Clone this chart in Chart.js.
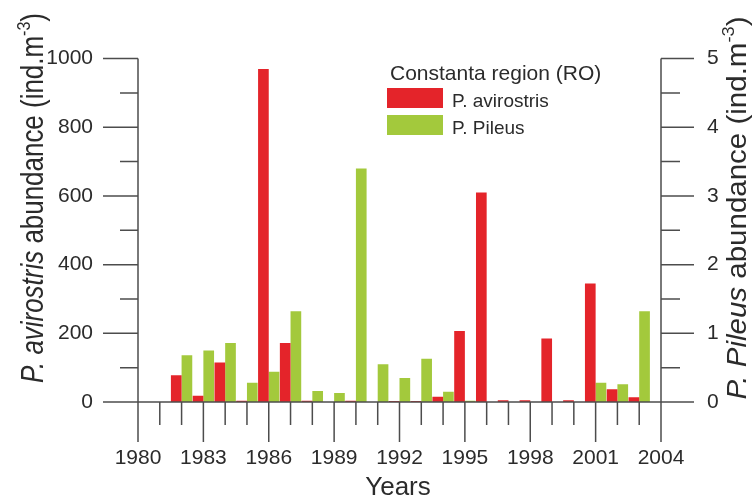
<!DOCTYPE html>
<html lang="en">
<head>
    <meta charset="UTF-8">
    <title>Constanta region (RO) - P. avirostris / P. Pileus</title>
    <style>
        html, body {
            margin: 0;
            padding: 0;
            background: #fff;
        }
        .chart-box {
            position: relative;
            width: 752px;
            height: 499px;
        }
    </style>
    <script src="https://cdn.jsdelivr.net/npm/chart.js"></script>
</head>
<body>
    <div class="chart-box">
        <canvas id="abundanceChart"></canvas>
    </div>
    <script>
        // data
        const years = ['1980', '1981', '1982', '1983', '1984', '1985', '1986', '1987', '1988', '1989',
                       '1990', '1991', '1992', '1993', '1994', '1995', '1996', '1997', '1998', '1999',
                       '2000', '2001', '2002', '2003', '2004'];
        // P. avirostris, left axis (ind.m-3)
        const avirostris = [0, 0, 78, 18, 115, 4, 970, 172, 4, 0,
                            4, 0, 3, 3, 15, 207, 610, 5, 5, 185,
                            5, 345, 37, 14, 0];
        // P. Pileus, right axis (ind.m-3)
        const pileus = [0, 0, 0.68, 0.75, 0.86, 0.28, 0.44, 1.32, 0.16, 0.13,
                        3.4, 0.55, 0.35, 0.63, 0.15, 0.02, 0, 0, 0, 0,
                        0, 0.28, 0.26, 1.32, 0];
        const legendTitle = 'Constanta region (RO)';

        const RED = '#e4242a';
        const GREEN = '#a3c93c';
        const INK = '#2b2b2b';
        const LINE = '#4d4d4d';

        // narrow font check (falls back to the normal one)
        function hasFont(name) {
            const c = document.createElement('canvas').getContext('2d');
            c.font = '40px monospace';
            const a = c.measureText('1000 Years abc').width;
            c.font = '40px "' + name + '", monospace';
            const b = c.measureText('1000 Years abc').width;
            return a !== b;
        }
        const narrowOk = hasFont('Liberation Sans Narrow');
        const NARROW = narrowOk ? '"Liberation Sans Narrow", "Liberation Sans", Arial, sans-serif'
                                : '"Liberation Sans", Arial, sans-serif';
        const REGULAR = '"Liberation Sans", Arial, sans-serif';
        const tickSize = narrowOk ? 24 : 21;

        // rotated axis title with italic species name and superscript, stretched to a given length
        function drawTitle(ctx, cx, cy, len, size, family, parts) {
            ctx.save();
            const pieces = parts.map(p => {
                const s = p.sup ? size * 0.62 : size;
                ctx.font = (p.italic ? 'italic ' : '') + s + 'px ' + family;
                return { text: p.text, font: ctx.font, w: ctx.measureText(p.text).width, sup: p.sup };
            });
            const total = pieces.reduce((t, p) => t + p.w, 0);
            ctx.translate(cx, cy);
            ctx.rotate(-Math.PI / 2);
            ctx.scale(len / total, 1);
            ctx.fillStyle = INK;
            ctx.textBaseline = 'alphabetic';
            ctx.textAlign = 'left';
            let pos = -total / 2;
            pieces.forEach(p => {
                ctx.font = p.font;
                ctx.fillText(p.text, pos, p.sup ? -size * 0.42 : 0);
                pos += p.w;
            });
            ctx.restore();
        }

        const framePlugin = {
            id: 'frame',
            afterDatasetsDraw(chart) {
                const { ctx, chartArea: a, scales: { x, y, y1 } } = chart;
                ctx.save();
                ctx.strokeStyle = LINE;
                ctx.lineWidth = 1.5;
                ctx.beginPath();
                // axis lines
                ctx.moveTo(a.left, a.top); ctx.lineTo(a.left, a.bottom + 40);
                ctx.moveTo(a.right, a.top); ctx.lineTo(a.right, a.bottom + 40);
                ctx.moveTo(a.left, a.bottom); ctx.lineTo(a.right, a.bottom);
                // year ticks, long every third year
                years.forEach((yr, i) => {
                    const px = x.getPixelForValue(i);
                    ctx.moveTo(px, a.bottom);
                    ctx.lineTo(px, a.bottom + (i % 3 === 0 ? 40 : 23));
                });
                // left ticks
                for (let v = 0; v <= 1000; v += 100) {
                    const py = y.getPixelForValue(v);
                    ctx.moveTo(a.left, py);
                    ctx.lineTo(a.left - (v % 200 === 0 ? 35 : 18), py);
                }
                // right ticks
                for (let v = 0; v <= 5; v += 0.5) {
                    const py = y1.getPixelForValue(v);
                    ctx.moveTo(a.right, py);
                    ctx.lineTo(a.right + (Number.isInteger(v) ? 33 : 19), py);
                }
                ctx.stroke();

                // legend
                ctx.fillStyle = INK;
                ctx.textAlign = 'left';
                ctx.textBaseline = 'alphabetic';
                ctx.font = '21px ' + REGULAR;
                ctx.fillText(legendTitle, 390, 80);
                chart.data.datasets.forEach((ds, i) => {
                    const top = 88 + i * 27;
                    ctx.fillStyle = ds.backgroundColor;
                    ctx.fillRect(387, top, 56, 20);
                    ctx.fillStyle = INK;
                    ctx.font = (narrowOk ? 22 : 19) + 'px ' + NARROW;
                    ctx.fillText(ds.label, 452, top + 19);
                });

                // x title
                ctx.font = '26px ' + REGULAR;
                ctx.textAlign = 'center';
                ctx.fillText('Years', 398, 495);
                ctx.restore();

                // y titles
                drawTitle(ctx, 43, 198, 370, 31, NARROW, [
                    { text: 'P. avirostris', italic: true },
                    { text: ' abundance (ind.m' },
                    { text: '-3', sup: true },
                    { text: ')' }
                ]);
                drawTitle(ctx, 746, 208, 383, 28, REGULAR, [
                    { text: 'P. Pileus', italic: true },
                    { text: ' abundance (ind.m' },
                    { text: '-3', sup: true },
                    { text: ')' }
                ]);
            }
        };

        const tickFont = { family: NARROW, size: tickSize };

        new Chart(document.getElementById('abundanceChart'), {
            type: 'bar',
            data: {
                labels: years,
                datasets: [
                    {
                        label: 'P. avirostris',
                        data: avirostris,
                        backgroundColor: RED,
                        yAxisID: 'y',
                        categoryPercentage: 0.98,
                        barPercentage: 1.0
                    },
                    {
                        label: 'P. Pileus',
                        data: pileus,
                        backgroundColor: GREEN,
                        yAxisID: 'y1',
                        categoryPercentage: 0.98,
                        barPercentage: 1.0
                    }
                ]
            },
            plugins: [framePlugin],
            options: {
                responsive: true,
                maintainAspectRatio: false,
                animation: false,
                layout: { padding: { top: 58, left: 0, right: 0, bottom: 0 } },
                plugins: {
                    legend: { display: false },
                    tooltip: { enabled: false }
                },
                scales: {
                    x: {
                        type: 'category',
                        offset: false,
                        grid: { display: false, drawTicks: false },
                        border: { display: false },
                        ticks: {
                            autoSkip: false,
                            maxRotation: 0,
                            padding: 44,
                            color: INK,
                            font: tickFont,
                            callback: (val, i) => (i % 3 === 0 ? years[i] : '')
                        },
                        afterFit: s => { s.height = 97; }
                    },
                    y: {
                        position: 'left',
                        min: 0,
                        max: 1000,
                        grid: { display: false, drawTicks: false },
                        border: { display: false },
                        ticks: { stepSize: 200, padding: 45, color: INK, font: tickFont,
                                 callback: v => String(v) },
                        afterFit: s => { s.width = 138; }
                    },
                    y1: {
                        position: 'right',
                        min: 0,
                        max: 5,
                        grid: { display: false, drawTicks: false },
                        border: { display: false },
                        ticks: { stepSize: 1, padding: 46, color: INK, font: tickFont,
                                 callback: v => String(v) },
                        afterFit: s => { s.width = 91; }
                    }
                }
            }
        });
    </script>
</body>
</html>
